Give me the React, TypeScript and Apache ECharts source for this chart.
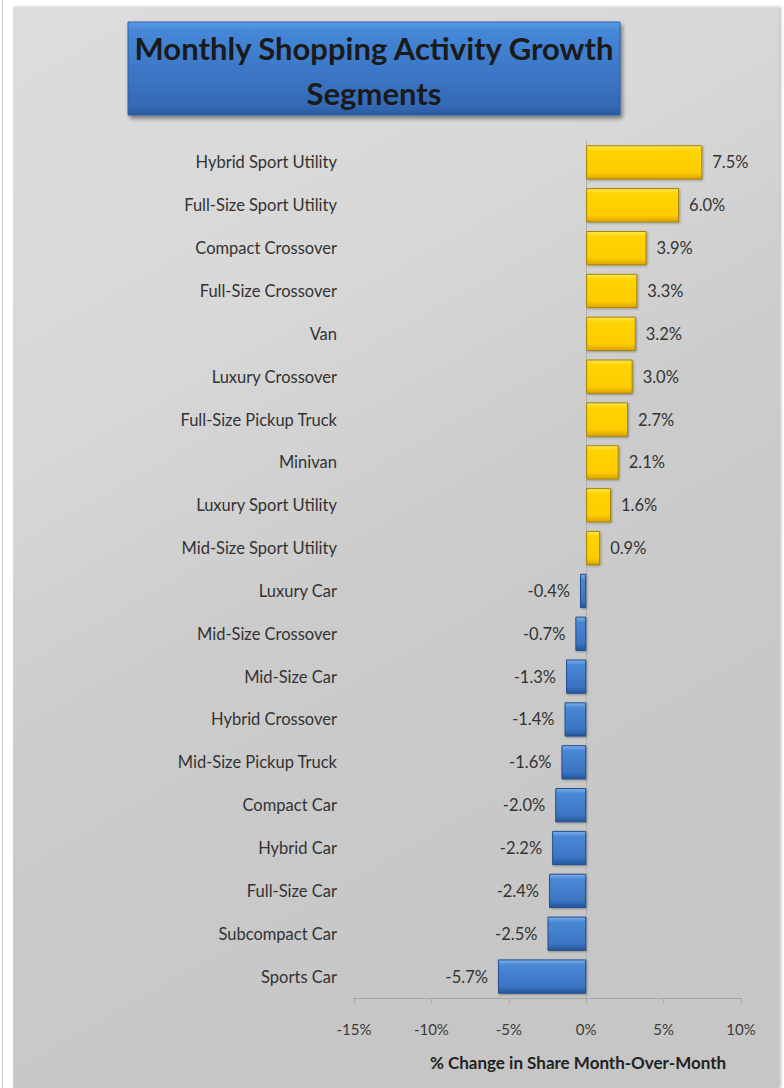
import React, { useEffect, useRef } from "react";
import * as echarts from "echarts";

const categories = [
  "Hybrid Sport Utility",
  "Full-Size Sport Utility",
  "Compact Crossover",
  "Full-Size Crossover",
  "Van",
  "Luxury Crossover",
  "Full-Size Pickup Truck",
  "Minivan",
  "Luxury Sport Utility",
  "Mid-Size Sport Utility",
  "Luxury Car",
  "Mid-Size Crossover",
  "Mid-Size Car",
  "Hybrid Crossover",
  "Mid-Size Pickup Truck",
  "Compact Car",
  "Hybrid Car",
  "Full-Size Car",
  "Subcompact Car",
  "Sports Car",
];
const values = [7.5, 6.0, 3.9, 3.3, 3.2, 3.0, 2.7, 2.1, 1.6, 0.9, -0.4, -0.7, -1.3, -1.4, -1.6, -2.0, -2.2, -2.4, -2.5, -5.7];
const titleLines = ["Monthly Shopping Activity Growth", "Segments"];
const axisTitle = "% Change in Share Month-Over-Month";
const xMin = -15;
const xMax = 10;
const xStep = 5;

const FONT = "Lato, 'Open Sans', sans-serif";

const yellowFill = new echarts.graphic.LinearGradient(0, 0, 0, 1, [
  { offset: 0, color: "#FFE65A" },
  { offset: 0.15, color: "#FFD400" },
  { offset: 0.8, color: "#FFCC00" },
  { offset: 1, color: "#D9A400" },
]);
const blueFill = new echarts.graphic.LinearGradient(0, 0, 0, 1, [
  { offset: 0, color: "#7FB0EA" },
  { offset: 0.15, color: "#4A88D6" },
  { offset: 0.8, color: "#3A74C2" },
  { offset: 1, color: "#25569A" },
]);

export default function App() {
  const ref = useRef<HTMLDivElement>(null);
  useEffect(() => {
    if (!ref.current) return;
    const chart = echarts.init(ref.current, null, { renderer: "svg" });
    chart.setOption({
      animation: false,
      backgroundColor: "#ffffff",
      graphic: [
        {
          type: "rect",
          z: -10,
          shape: { x: 2, y: 0, width: 1, height: 1088 },
          style: { fill: "#cfcfcf" },
        },
        {
          type: "rect",
          z: -10,
          shape: { x: 13, y: 7, width: 766, height: 1081 },
          style: {
            fill: new echarts.graphic.LinearGradient(0, 0, 0.4, 1, [
              { offset: 0, color: "#dcdcdc" },
              { offset: 0.35, color: "#d8d8d8" },
              { offset: 0.6, color: "#cccccc" },
              { offset: 1, color: "#c6c6c6" },
            ]),
            shadowBlur: 3,
            shadowColor: "rgba(0,0,0,0.25)",
            shadowOffsetX: 2,
            shadowOffsetY: 0,
          },
        },
        {
          type: "rect",
          z: 10,
          shape: { x: 128, y: 22, width: 492, height: 93 },
          style: {
            fill: new echarts.graphic.LinearGradient(0, 0, 0, 1, [
              { offset: 0, color: "#5b9be6" },
              { offset: 0.1, color: "#4587d8" },
              { offset: 0.9, color: "#3469b6" },
              { offset: 1, color: "#2a5a9e" },
            ]),
            stroke: "#2f5f9f",
            lineWidth: 1,
            shadowBlur: 4,
            shadowColor: "rgba(0,0,0,0.45)",
            shadowOffsetX: 2,
            shadowOffsetY: 3,
          },
        },
        {
          type: "text",
          z: 11,
          x: 374,
          y: 48,
          style: {
            text: titleLines[0],
            font: `bold 31px ${FONT}`,
            fill: "#1a1a1a",
            align: "center",
            verticalAlign: "middle",
          },
        },
        {
          type: "text",
          z: 11,
          x: 374,
          y: 93,
          style: {
            text: titleLines[1],
            font: `bold 31px ${FONT}`,
            fill: "#1a1a1a",
            align: "center",
            verticalAlign: "middle",
          },
        },
        {
          type: "text",
          z: 11,
          x: 578,
          y: 1062,
          style: {
            text: axisTitle,
            font: `bold 17px ${FONT}`,
            fill: "#222222",
            align: "center",
            verticalAlign: "middle",
          },
        },
      ],
      grid: { left: 354, right: 43, top: 141, bottom: 90, containLabel: false },
      xAxis: {
        type: "value",
        min: xMin,
        max: xMax,
        interval: xStep,
        axisLine: { show: true, onZero: false, lineStyle: { color: "#a6a6a6", width: 1 } },
        axisTick: { show: true, length: 5, lineStyle: { color: "#a6a6a6" } },
        splitLine: { show: false },
        axisLabel: {
          formatter: "{value}%",
          fontFamily: FONT,
          fontSize: 15,
          color: "#3a3a3a",
          margin: 23,
        },
      },
      yAxis: {
        type: "category",
        data: categories,
        inverse: true,
        axisLine: { show: true, onZero: true, lineStyle: { color: "#b0b0b0", width: 1 } },
        axisTick: { show: false },
        axisLabel: {
          fontFamily: FONT,
          fontSize: 16.5,
          color: "#333333",
          margin: 17,
        },
        position: "left",
      },
      series: [
        {
          type: "bar",
          data: values.map((v) => ({
            value: v,
            itemStyle: {
              color: v >= 0 ? yellowFill : blueFill,
              borderColor: v >= 0 ? "#A88400" : "#244f8c",
              borderWidth: 1,
              shadowBlur: 2,
              shadowColor: "rgba(0,0,0,0.3)",
              shadowOffsetX: 1,
              shadowOffsetY: 1,
            },
            label: {
              show: true,
              position: v >= 0 ? "right" : "left",
            },
          })),
          barWidth: "80%",
          label: {
            show: true,
            distance: 10,
            fontFamily: FONT,
            fontSize: 16.5,
            color: "#333333",
            formatter: (p: any) => `${Number(p.value).toFixed(1)}%`,
          },
        },
      ],
    });
    return () => chart.dispose();
  }, []);
  return (
    <div
      ref={ref}
      style={{ position: "fixed", left: 0, top: 0, width: 784, height: 1088 }}
    />
  );
}
